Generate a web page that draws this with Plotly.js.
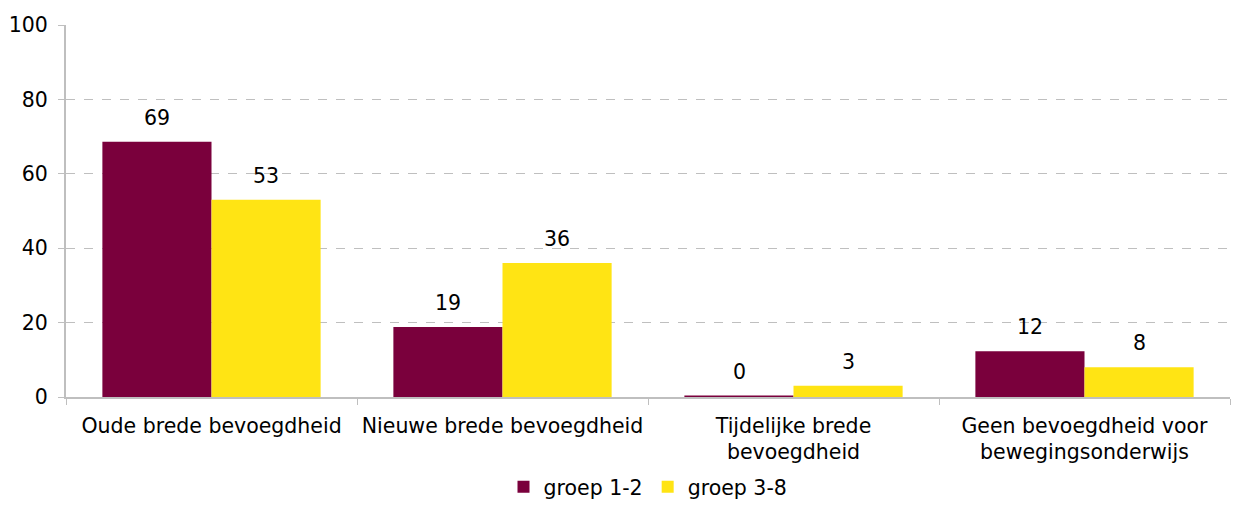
<!DOCTYPE html>
<html><head><meta charset="utf-8">
<script src="https://cdn.plot.ly/plotly-3.0.1.min.js"></script>
<style>body{margin:0;background:#fff}#c{width:1236px;height:507px}</style>
</head><body><div id="c"></div>
<script>
const categories = ["Oude brede bevoegdheid", "Nieuwe brede bevoegdheid", "Tijdelijke brede<br>bevoegdheid", "Geen bevoegdheid voor<br>bewegingsonderwijs"];
const groep12 = [68.6, 18.8, 0.4, 12.3];
const groep38 = [53.0, 36.0, 3.0, 8.0];
const seriesNames = ["groep 1-2", "groep 3-8"];
const font = "DejaVu Sans, Verdana, sans-serif";
const fs = 20.5;
function tr(vals, name, color){
  return {type:"bar", x:categories, y:vals, name:name, marker:{color:color}, hoverinfo:"none"};
}
const annotations = [];
[[groep12,-54.5],[groep38,54.5]].forEach(([vals,dx])=>{
  vals.forEach((v,i)=>annotations.push({x:categories[i], y:v, xref:"x", yref:"y", text:String(Math.round(v)),
    showarrow:false, xshift:dx, yshift:24, yanchor:"middle", font:{family:font,size:fs,color:"#000"}}));
});
Plotly.newPlot("c", [tr(groep12, seriesNames[0], "#7A003C"), tr(groep38, seriesNames[1], "#FFE414")], {
  width:1236, height:507, margin:{l:66,r:6,t:25,b:110},
  paper_bgcolor:"#fff", plot_bgcolor:"#fff",
  barmode:"group", bargap:0.25, bargroupgap:0,
  font:{family:font,size:fs,color:"#000"},
  annotations:annotations,
  xaxis:{showline:true, linecolor:"#BFBFBF", linewidth:2, ticks:"outside", tickson:"boundaries", ticklen:6, tickcolor:"#BFBFBF", tickfont:{size:fs}, showgrid:false, automargin:false, ticklabelstandoff:9},
  yaxis:{range:[0,100], dtick:20, showline:true, linecolor:"#BFBFBF", linewidth:2, ticks:"outside", ticklen:6, tickcolor:"#BFBFBF",
    gridcolor:"#BFBFBF", griddash:"dash", gridwidth:1.3, zeroline:false, tickfont:{size:fs}, automargin:false, ticklabelstandoff:6},
  showlegend:true,
  legend:{orientation:"h", x:0.5, xanchor:"center", yref:"container", y:-0.022, yanchor:"bottom", font:{size:fs}, itemwidth:30, traceorder:"normal"}
}, {staticPlot:true});
</script></body></html>
